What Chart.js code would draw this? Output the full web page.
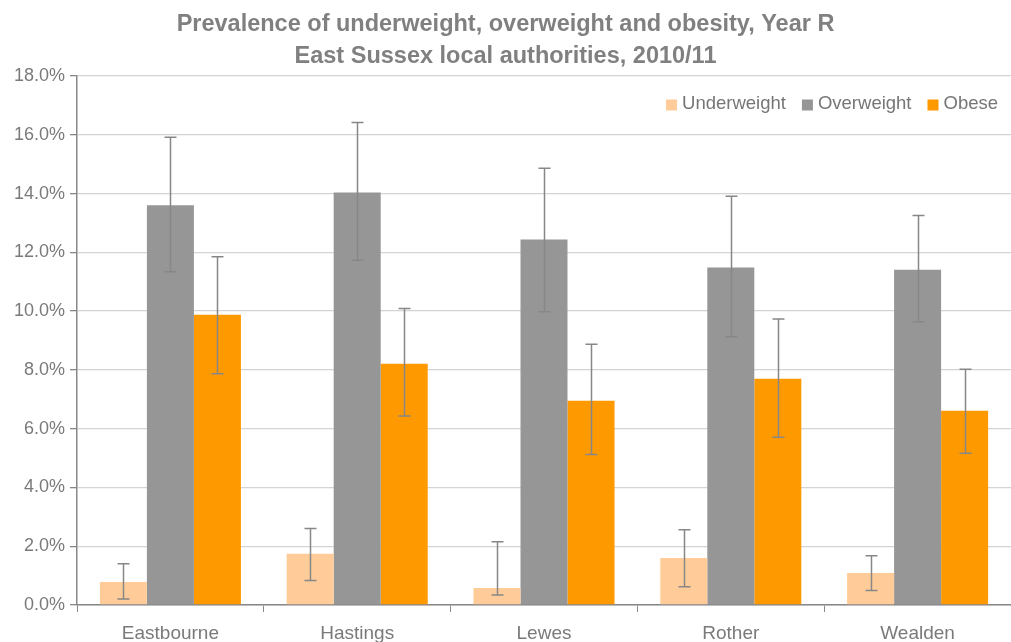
<!DOCTYPE html>
<html>
<head>
<meta charset="utf-8">
<script src="https://cdn.jsdelivr.net/npm/chart.js@4.4.1/dist/chart.umd.min.js"></script>
<style>
html,body{margin:0;padding:0;background:#fff;}
#wrap{width:1011px;height:642px;position:relative;}
</style>
</head>
<body>
<div id="wrap"><canvas id="c" width="1011" height="642"></canvas></div>
<script>
const categories = ["Eastbourne", "Hastings", "Lewes", "Rother", "Wealden"];
const seriesNames = ["Underweight", "Overweight", "Obese"];
const underweight = [0.78, 1.74, 0.58, 1.60, 1.09];
const overweight = [13.60, 14.04, 12.44, 11.48, 11.41];
const obese = [9.88, 8.21, 6.95, 7.70, 6.61];
const underweightLow = [0.20, 0.83, 0.34, 0.62, 0.49];
const underweightHigh = [1.40, 2.60, 2.15, 2.56, 1.68];
const overweightLow = [11.34, 11.73, 9.98, 9.13, 9.64];
const overweightHigh = [15.92, 16.42, 14.86, 13.91, 13.25];
const obeseLow = [7.87, 6.43, 5.12, 5.71, 5.16];
const obeseHigh = [11.85, 10.09, 8.87, 9.73, 8.02];
const yTicks = [0, 2, 4, 6, 8, 10, 12, 14, 16, 18];

const colors = ["#FFCC99", "#969696", "#FF9900"];
const lows = [underweightLow, overweightLow, obeseLow];
const highs = [underweightHigh, overweightHigh, obeseHigh];
const FONT = '"Liberation Sans", Arial, sans-serif';

const errorBars = {
  id: 'errorBars',
  afterDatasetsDraw(chart) {
    const ctx = chart.ctx;
    const y = chart.scales.y;
    ctx.save();
    ctx.strokeStyle = '#878787';
    ctx.lineWidth = 1.5;
    chart.data.datasets.forEach((ds, i) => {
      const meta = chart.getDatasetMeta(i);
      meta.data.forEach((bar, j) => {
        const x = Math.round(bar.x) + 0.5;
        const y1 = y.getPixelForValue(lows[i][j]);
        const y2 = y.getPixelForValue(highs[i][j]);
        ctx.beginPath();
        ctx.moveTo(x, y1); ctx.lineTo(x, y2);
        ctx.moveTo(x - 6, y1); ctx.lineTo(x + 6, y1);
        ctx.moveTo(x - 6, y2); ctx.lineTo(x + 6, y2);
        ctx.stroke();
      });
    });
    ctx.restore();
  }
};

const insideLegend = {
  id: 'insideLegend',
  afterDraw(chart) {
    const ctx = chart.ctx;
    ctx.save();
    ctx.font = '18.5px ' + FONT;
    ctx.textBaseline = 'middle';
    const box = 11, gapText = 5, gapItem = 16;
    const items = chart.data.datasets.map(d => ({label: d.label, color: d.backgroundColor}));
    let total = 0;
    items.forEach((it, k) => {
      it.w = ctx.measureText(it.label).width;
      total += box + gapText + it.w + (k < items.length - 1 ? gapItem : 0);
    });
    let x = chart.chartArea.right - 13 - total;
    const cy = 104;
    items.forEach(it => {
      ctx.fillStyle = it.color;
      ctx.fillRect(x, cy - box / 2 + 1, box, box);
      x += box + gapText;
      ctx.fillStyle = '#767676';
      ctx.fillText(it.label, x, cy);
      x += it.w + gapItem;
    });
    ctx.restore();
  }
};

new Chart(document.getElementById('c'), {
  type: 'bar',
  data: {
    labels: categories,
    datasets: [
      {label: seriesNames[0], data: underweight, backgroundColor: colors[0]},
      {label: seriesNames[1], data: overweight, backgroundColor: colors[1]},
      {label: seriesNames[2], data: obese, backgroundColor: colors[2]}
    ]
  },
  options: {
    responsive: false,
    animation: false,
    devicePixelRatio: 1,
    layout: {padding: {left: 0, right: 0, top: 0, bottom: 0}},
    datasets: {bar: {categoryPercentage: 0.755, barPercentage: 1.0}},
    plugins: {
      legend: {display: false},
      tooltip: {enabled: false},
      title: {
        display: true,
        text: ["Prevalence of underweight, overweight and obesity, Year R", "East Sussex local authorities, 2010/11"],
        color: '#808080',
        font: {family: FONT, size: 23.5, weight: 'bold', lineHeight: 32 / 23.5},
        padding: {top: 9, bottom: 3}
      }
    },
    scales: {
      x: {
        grid: {display: true, drawOnChartArea: false, drawTicks: true, tickLength: 7, color: '#888888', offset: true},
        border: {display: true, color: '#888888', width: 1.5},
        ticks: {color: '#7a7a7a', font: {family: FONT, size: 19}, padding: 10, maxRotation: 0},
        afterFit(s) { s.height = 37; }
      },
      y: {
        min: 0, max: 18,
        afterBuildTicks(s) { s.ticks = yTicks.map(v => ({value: v})); },
        grid: {color: '#d4d4d4', lineWidth: 1.3, tickLength: 7, tickColor: '#888888'},
        border: {display: true, color: '#888888', width: 1.5},
        ticks: {
          color: '#7a7a7a',
          font: {family: FONT, size: 18},
          padding: 5,
          callback: v => v.toFixed(1) + '%'
        },
        afterFit(s) { s.width = 77; }
      }
    }
  },
  plugins: [errorBars, insideLegend]
});
</script>
</body>
</html>
